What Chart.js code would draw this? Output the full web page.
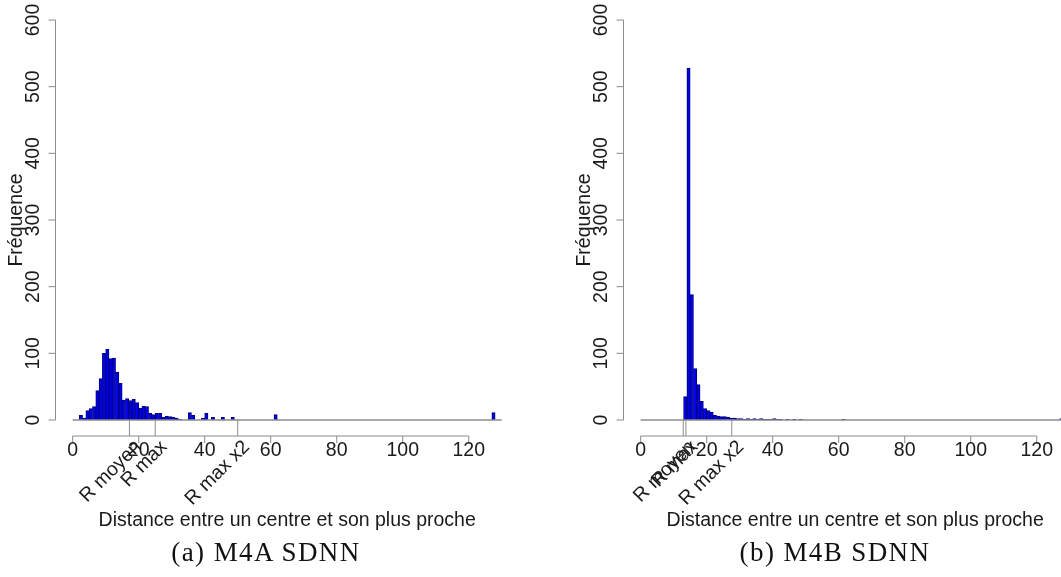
<!DOCTYPE html>
<html>
<head>
<meta charset="utf-8">
<script src="https://cdn.jsdelivr.net/npm/chart.js@4"></script>
<style>
  html, body { margin: 0; padding: 0; background: #fff; overflow: hidden; width: 1061px; height: 577px; }
  canvas { position: absolute; top: 0; }
  #chartA { left: 0; }
  #chartB { left: 568px; }
  .caption { position: absolute; top: 537px; width: 320px; text-align: center; font-family: "Liberation Serif", "DejaVu Serif", serif; font-size: 27px; letter-spacing: 1.4px; color: #111; }
</style>
</head>
<body>
<canvas id="chartA" width="530" height="540"></canvas>
<canvas id="chartB" width="530" height="540"></canvas>
<div class="caption" style="left:106px">(a) M4A SDNN</div>
<div class="caption" style="left:675px">(b) M4B SDNN</div>
<script>
// histogram bins are 1 unit wide, listed by their left edge
const binsA = [2, 3, 4, 5, 6, 7, 8, 9, 10, 11, 12, 13, 14, 15, 16, 17, 18, 19, 20, 21, 22, 23, 24, 25, 26, 27, 28, 29, 30, 31, 32, 35, 36, 39, 40, 42, 45, 48, 61, 127];
const freqA = [7, 3, 14, 17, 20, 44, 62, 100, 106, 92, 93, 72, 55, 30, 32, 29, 31, 26, 18, 21, 20, 10, 8, 10, 10, 4, 6, 5, 4, 3, 1, 11, 7, 3, 10, 4, 4, 4, 8, 11];

const binsB = [13, 14, 15, 16, 17, 18, 19, 20, 21, 22, 23, 24, 25, 26, 27, 28, 29, 30, 31, 32, 33, 34, 35, 36, 37, 38, 39, 40, 41, 42, 44, 46, 48, 61, 127];
const freqB = [35, 528, 188, 77, 53, 28, 17, 14, 12, 7, 6, 5, 5, 4, 3, 3, 2, 2, 1, 2, 1, 2, 1, 2, 1, 1, 1, 2, 1, 1, 1, 1, 1, 1, 2];

const binWidth = 1;
const histEnd = 130;
const xTicks = [0, 20, 40, 60, 80, 100, 120];
const yTicks = [0, 100, 200, 300, 400, 500, 600];

const markNames = ["R moyen", "R max", "R max x2"];
const marksA = [17.2, 25, 50];
const marksB = [12.9, 13.7, 27.6];

const xTitle = "Distance entre un centre et son plus proche";
const yTitle = "Fréquence";

const FONT = '19.5px "Liberation Sans", Arial, sans-serif';
const TEXT = "#1a1a1a";
const AXIS = "#8c8c8c";

function line(ctx, x1, y1, x2, y2) {
    ctx.beginPath();
    ctx.moveTo(x1, y1);
    ctx.lineTo(x2, y2);
    ctx.stroke();
}

function rotatedText(ctx, text, x, y, angle, align) {
    ctx.save();
    ctx.translate(x, y);
    ctx.rotate(angle);
    ctx.textAlign = align;
    ctx.textBaseline = "middle";
    ctx.fillText(text, 0, 0);
    ctx.restore();
}

// R style axes: lines only span the ticks, labels under the plot
const rAxes = {
    id: "rAxes",
    afterDatasetsDraw(chart) {
        const ctx = chart.ctx;
        const xs = chart.scales.x;
        const ys = chart.scales.y;
        const area = chart.chartArea;
        const marks = chart.options.plugins.rAxes.marks;
        const y0 = ys.getPixelForValue(0);

        ctx.save();
        ctx.strokeStyle = AXIS;
        ctx.fillStyle = TEXT;
        ctx.font = FONT;

        ctx.lineWidth = 1.5;
        line(ctx, xs.getPixelForValue(0), y0, xs.getPixelForValue(histEnd), y0);

        ctx.lineWidth = 1;
        // y axis
        line(ctx, area.left, ys.getPixelForValue(yTicks[0]), area.left, ys.getPixelForValue(yTicks[yTicks.length - 1]));
        yTicks.forEach(v => {
            const py = ys.getPixelForValue(v);
            line(ctx, area.left, py, area.left - 7, py);
            rotatedText(ctx, String(v), area.left - 22, py, -Math.PI / 2, "center");
        });

        // x axis
        line(ctx, xs.getPixelForValue(xTicks[0]), area.bottom, xs.getPixelForValue(xTicks[xTicks.length - 1]), area.bottom);
        ctx.textAlign = "center";
        ctx.textBaseline = "middle";
        xTicks.forEach(v => {
            const px = xs.getPixelForValue(v);
            line(ctx, px, area.bottom, px, area.bottom + 7);
            ctx.fillText(String(v), px, area.bottom + 15);
        });

        // radius marks between the bars and the x axis
        marks.forEach((v, i) => {
            const px = xs.getPixelForValue(v);
            line(ctx, px, y0, px, area.bottom);
            rotatedText(ctx, markNames[i], px + 9, area.bottom + 8, -Math.PI / 4, "right");
        });

        rotatedText(ctx, yTitle, 17, (ys.getPixelForValue(0) + ys.getPixelForValue(600)) / 2, -Math.PI / 2, "center");
        ctx.textAlign = "center";
        ctx.fillText(xTitle, (area.left + area.right) / 2, 521);
        ctx.restore();
    }
};

function makeHist(id, bins, freq, marks) {
    const ctx = document.getElementById(id).getContext("2d");
    return new Chart(ctx, {
        type: "bar",
        data: {
            datasets: [{
                data: bins.map((b, i) => ({ x: b + binWidth / 2, y: freq[i] })),
                backgroundColor: "#0000ee",
                borderColor: "#00007a",
                borderWidth: 1,
                barPercentage: 1,
                categoryPercentage: 1
            }]
        },
        options: {
            responsive: false,
            animation: false,
            layout: { padding: { left: 55.5, right: 11.1, top: 4, bottom: 104 } },
            scales: {
                x: { type: "linear", min: -5.2, max: 135.2, offset: false, display: false },
                y: { min: -24, max: 624, display: false }
            },
            plugins: {
                legend: { display: false },
                tooltip: { enabled: false },
                rAxes: { marks: marks }
            }
        },
        plugins: [rAxes]
    });
}

makeHist("chartA", binsA, freqA, marksA);
makeHist("chartB", binsB, freqB, marksB);
</script>
</body>
</html>
